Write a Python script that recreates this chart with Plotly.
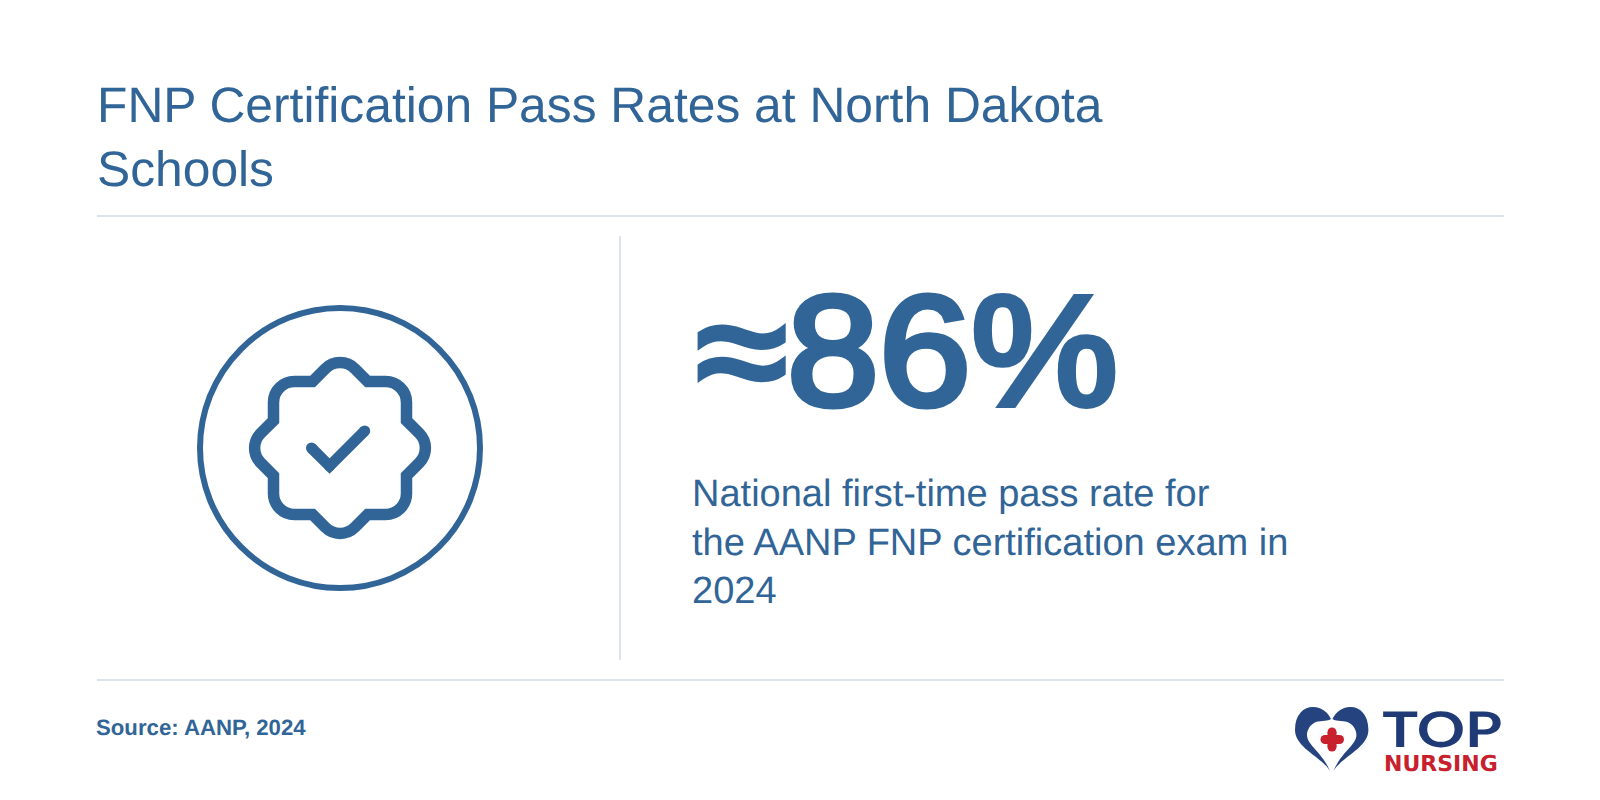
import re, math
import plotly.graph_objects as go

TITLE_LINES = ["FNP Certification Pass Rates at North Dakota", "Schools"]
STAT_VALUE = 86
STAT_LABEL = f"≈{STAT_VALUE}%"
BODY_LINES = ["National first-time pass rate for", "the AANP FNP certification exam in", "2024"]
SOURCE = "Source: AANP, 2024"
BLUE = "#316597"
RULE = "#dde3ec"
NAVY = "#1f3a75"
RED = "#c8202c"
FONT = "Liberation Sans"

BADGE = ("M5 7.2a2.2 2.2 0 0 1 2.2 -2.2h1.91l1.34 -1.34a2.2 2.2 0 0 1 3.12 0l1.34 1.34h1.89"
         "a2.2 2.2 0 0 1 2.2 2.2v1.91l1.34 1.34a2.2 2.2 0 0 1 0 3.12l-1.34 1.34v1.89"
         "a2.2 2.2 0 0 1 -2.2 2.2h-1.89l-1.34 1.34a2.2 2.2 0 0 1 -3.12 0l-1.34 -1.34h-1.91"
         "a2.2 2.2 0 0 1 -2.2 -2.2v-1.89l-1.34 -1.34a2.2 2.2 0 0 1 0 -3.12l1.34 -1.34Z")
ICON_CX, ICON_CY, ICON_K = 340, 448, 9.5
CHECK_U = [9, 10.9, 14.6]
CHECK_V = [12, 13.9, 10.2]
CROSS_H_X = [1325, 1339.5]
CROSS_H_Y = [739.5, 739.5]
CROSS_V_X = [1332, 1332]
CROSS_V_Y = [732, 747]


def icon_path(d, cx, cy, k):
    """Icon path in 24-unit space to absolute M/L/C commands on the page axes."""
    toks = re.findall(r"[a-zA-Z]|-?\d*\.?\d+", d)
    i, x, y, sx, sy = 0, 0.0, 0.0, 0.0, 0.0
    out = []
    P = lambda a, b: f"{cx + (a - 12) * k:.2f},{cy + (b - 12) * k:.2f}"
    cmd = None
    while i < len(toks):
        if re.fullmatch(r"[a-zA-Z]", toks[i]):
            cmd = toks[i]
            i += 1
            if cmd == "Z":
                out.append("Z")
                x, y = sx, sy
                continue
        n = lambda j: float(toks[i + j])
        if cmd == "M":
            x, y = n(0), n(1); sx, sy = x, y; out.append("M" + P(x, y)); i += 2; cmd = "L"
        elif cmd == "l":
            x += n(0); y += n(1); out.append("L" + P(x, y)); i += 2
        elif cmd == "h":
            x += n(0); out.append("L" + P(x, y)); i += 1
        elif cmd == "v":
            y += n(0); out.append("L" + P(x, y)); i += 1
        elif cmd == "a":
            r, dx, dy = n(0), n(5), n(6)
            x2, y2 = x + dx, y + dy
            mx, my, q = (x + x2) / 2, (y + y2) / 2, math.hypot(dx, dy)
            h = math.sqrt(max(r * r - q * q / 4, 0))
            ccx, ccy = mx - h * dy / q, my + h * dx / q
            a0 = math.atan2(y - ccy, x - ccx)
            a1 = math.atan2(y2 - ccy, x2 - ccx)
            if a1 < a0: a1 += 2 * math.pi
            segs = max(1, math.ceil((a1 - a0) / (math.pi / 2)))
            st = (a1 - a0) / segs
            t = 4 / 3 * math.tan(st / 4)
            for s in range(segs):
                b0, b1 = a0 + s * st, a0 + (s + 1) * st
                p0 = (ccx + r * math.cos(b0), ccy + r * math.sin(b0))
                p3 = (ccx + r * math.cos(b1), ccy + r * math.sin(b1))
                c1 = (p0[0] - t * r * math.sin(b0), p0[1] + t * r * math.cos(b0))
                c2 = (p3[0] + t * r * math.sin(b1), p3[1] - t * r * math.cos(b1))
                out.append("C" + P(*c1) + " " + P(*c2) + " " + P(*p3))
            x, y = x2, y2; i += 7
    return " ".join(out)


fig = go.Figure()


def rounded(xs, ys, color, w):
    fig.add_trace(go.Scatter(x=xs, y=ys, mode="lines+markers", line=dict(color=color, width=w),
                             marker=dict(color=color, size=w, line=dict(width=0)),
                             hoverinfo="skip", showlegend=False))


rounded([ICON_CX + (u - 12) * ICON_K for u in CHECK_U], [ICON_CY + (v - 12) * ICON_K for v in CHECK_V], BLUE, 11)
rounded(CROSS_H_X, CROSS_H_Y, RED, 9)
rounded(CROSS_V_X, CROSS_V_Y, RED, 9)


def text(x, y, s, size, color=BLUE, bold=False, family=FONT):
    fig.add_annotation(x=x, y=y, text=s, showarrow=False, xanchor="left", yanchor="middle",
                       font=dict(size=size, color=color, family=family, weight=700 if bold else 400),
                       borderpad=0, borderwidth=0)


for i, t in enumerate(TITLE_LINES):
    text(97, 105 + i * 63.5, t, 49.75)
text(707, 350.5, STAT_LABEL, 157)
for i, t in enumerate(BODY_LINES):
    text(692, 493 + i * 48.5, t, 38)
text(96, 727, SOURCE, 22.2, bold=True)
text(1392.5, 728, "TOP", 49, NAVY, bold=True, family="Lato")
text(1384, 763.5, "NURSING", 22, RED, bold=True, family="DejaVu Sans")


def line(x0, y0, x1, y1):
    fig.add_shape(type="line", x0=x0, y0=y0, x1=x1, y1=y1, line=dict(color=RULE, width=2))


line(97, 216, 1504, 216)
line(97, 680, 1504, 680)
line(620, 236, 620, 660)
fig.add_shape(type="circle", x0=200, y0=308, x1=480, y1=588, line=dict(color=BLUE, width=6))
fig.add_shape(type="path", path=icon_path(BADGE, ICON_CX, ICON_CY, ICON_K), line=dict(color=BLUE, width=11.5))

# logo heart: two crescents
HEART_L = [(1330, 771), (1322, 757), (1295, 748), (1295, 730), (1295, 715), (1303, 707), (1313, 707),
           (1322, 707), (1328, 713), (1331, 719), (1326, 722), (1319, 720), (1314, 723),
           (1309, 726), (1307, 731), (1307, 735), (1307, 745), (1322, 752), (1330, 771)]


def heart_path(mirror):
    pts = [((2663.4 - a) if mirror else a, b) for a, b in HEART_L]
    s = f"M{pts[0][0]},{pts[0][1]}"
    for j in range(1, len(pts), 3):
        s += " C" + " ".join(f"{a},{b}" for a, b in pts[j:j + 3])
    return s + " Z"


fig.add_shape(type="path", fillcolor="#24437f", line=dict(width=0), path=heart_path(False))
fig.add_shape(type="path", fillcolor="#24437f", line=dict(width=0), path=heart_path(True))

# The page has an 8px body margin: the axes start at 8 so data units equal page pixels.
fig.update_xaxes(range=[8, 1600], visible=False, fixedrange=True)
fig.update_yaxes(range=[800, 8], visible=False, fixedrange=True)
fig.update_layout(width=1592, height=792, margin=dict(l=0, r=0, t=0, b=0), paper_bgcolor="white", plot_bgcolor="white")
POST = ("var s=document.createElement('style');"
        "s.textContent='text{text-rendering:geometricPrecision}';document.head.appendChild(s);"
        "document.querySelectorAll('text').forEach(function(t){"
        "if(t.textContent==='TOP'){t.style.transformBox='fill-box';t.style.transformOrigin='center';t.style.transform='scaleX(1.22)';}"
        "if(t.textContent.indexOf('%')>=0){t.style.stroke='" + BLUE + "';t.style.strokeWidth='6px';t.style.strokeLinejoin='miter';"
        "t.style.transformBox='fill-box';t.style.transformOrigin='center';t.style.transform='scaleX(1.054)';}"
        "});")
fig.write_html("out.html", config={"displayModeBar": False}, post_script=POST)
